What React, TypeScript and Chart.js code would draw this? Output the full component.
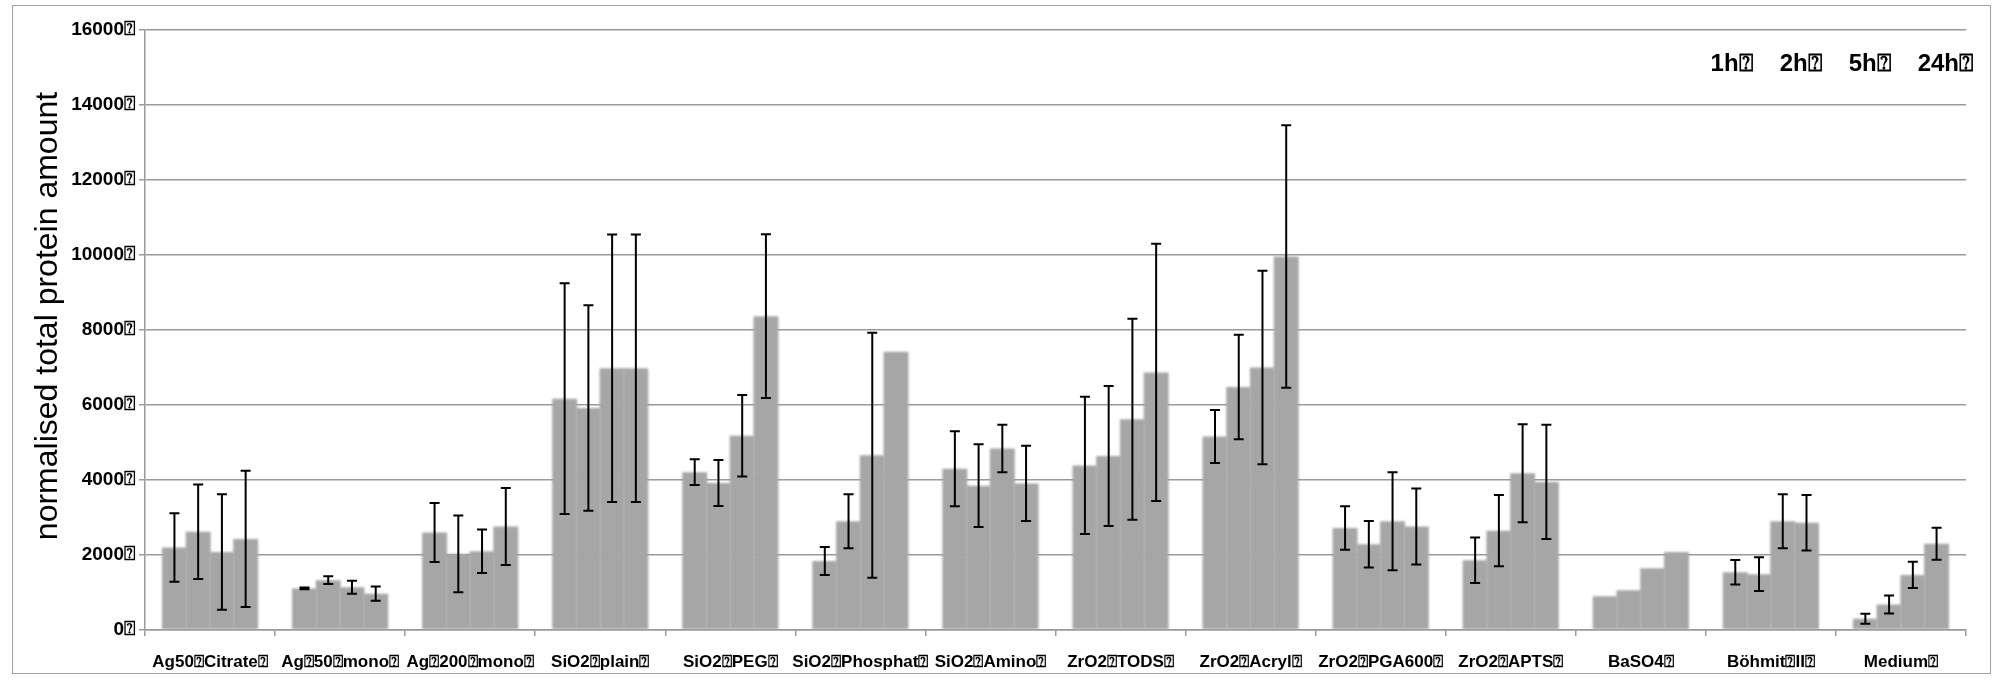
import React, { useEffect, useRef } from "react";
import { Chart, registerables } from "chart.js";

Chart.register(...registerables);

const BOX = "\u2370";

const categories = [
  "Ag50" + BOX + "Citrate" + BOX,
  "Ag" + BOX + "50" + BOX + "mono" + BOX,
  "Ag" + BOX + "200" + BOX + "mono" + BOX,
  "SiO2" + BOX + "plain" + BOX,
  "SiO2" + BOX + "PEG" + BOX,
  "SiO2" + BOX + "Phosphat" + BOX,
  "SiO2" + BOX + "Amino" + BOX,
  "ZrO2" + BOX + "TODS" + BOX,
  "ZrO2" + BOX + "Acryl" + BOX,
  "ZrO2" + BOX + "PGA600" + BOX,
  "ZrO2" + BOX + "APTS" + BOX,
  "BaSO4" + BOX,
  "Böhmit" + BOX + "II" + BOX,
  "Medium" + BOX,
];

const seriesNames = ["1h" + BOX, "2h" + BOX, "5h" + BOX, "24h" + BOX];

const values1h = [2200, 1110, 2600, 6170, 4210, 1840, 4300, 4390, 5160, 2720, 1860, 900, 1540, 300];
const values2h = [2620, 1330, 2030, 5920, 3920, 2900, 3850, 4640, 6480, 2290, 2650, 1060, 1490, 680];
const values5h = [2080, 1140, 2100, 6980, 5180, 4660, 4840, 5620, 7000, 2900, 4180, 1650, 2900, 1470];
const values24h = [2430, 970, 2760, 6980, 8370, 7420, 3910, 6870, 9960, 2760, 3950, 2080, 2860, 2300];

const err1h = [914, 25, 785, 3077, 344, 372, 997, 1828, 707, 583, 606, null, 329, 133];
const err2h = [1263, 106, 1024, 2742, 615, 717, 1102, 1865, 1392, 620, 951, null, 453, 240];
const err5h = [1543, 175, 583, 3564, 1089, 3266, 634, 2678, 2577, 1304, 1309, null, 720, 351];
const err24h = [1819, 193, 1024, 3564, 2186, null, 1001, 3431, 3500, 1015, 1525, null, 742, 427];

const yTickLabels = ["0", "2000", "4000", "6000", "8000", "10000", "12000", "14000", "16000"].map(
  (s) => s + BOX
);

const yTitle = "normalised total protein amount";

const BAR_COLOR = "#a6a6a6";
const GRID_COLOR = "#9a9a9a";
const SANS = '"Liberation Sans", Arial, sans-serif';

const blurPlugin = {
  id: "softBars",
  beforeDatasetDraw(chart: any) {
    chart.ctx.save();
    chart.ctx.filter = "blur(0.8px)";
  },
  afterDatasetDraw(chart: any) {
    chart.ctx.restore();
  },
};

const errorBarPlugin = {
  id: "errorBars",
  afterDatasetsDraw(chart: any) {
    const ctx = chart.ctx;
    const yScale = chart.scales.y;
    chart.data.datasets.forEach((ds: any, di: number) => {
      const meta = chart.getDatasetMeta(di);
      meta.data.forEach((bar: any, i: number) => {
        const e = ds.errors[i];
        if (e == null) return;
        const v = ds.data[i];
        const yTop = yScale.getPixelForValue(v + e);
        const yBot = yScale.getPixelForValue(v - e);
        const cap = 5;
        ctx.save();
        ctx.strokeStyle = "#000";
        ctx.lineWidth = 2;
        ctx.beginPath();
        ctx.moveTo(bar.x, yTop);
        ctx.lineTo(bar.x, yBot);
        ctx.moveTo(bar.x - cap, yTop);
        ctx.lineTo(bar.x + cap, yTop);
        ctx.moveTo(bar.x - cap, yBot);
        ctx.lineTo(bar.x + cap, yBot);
        ctx.stroke();
        ctx.restore();
      });
    });
  },
};

const textLegendPlugin = {
  id: "textLegend",
  afterDraw(chart: any) {
    const ctx = chart.ctx;
    const area = chart.chartArea;
    ctx.save();
    ctx.font = "bold 24px " + SANS;
    ctx.fillStyle = "#000";
    ctx.textBaseline = "middle";
    ctx.textAlign = "right";
    const gap = 27;
    let x = area.right + 7;
    const y = area.top + 34;
    const names = chart.data.datasets.map((d: any) => d.label);
    for (let i = names.length - 1; i >= 0; i--) {
      ctx.fillText(names[i], x, y);
      x -= ctx.measureText(names[i]).width + gap;
    }
    ctx.restore();
  },
};

const yTitlePlugin = {
  id: "yTitle",
  afterDraw(chart: any) {
    const ctx = chart.ctx;
    const area = chart.chartArea;
    ctx.save();
    ctx.translate(48, (area.top + area.bottom) / 2 - 14);
    ctx.rotate(-Math.PI / 2);
    ctx.font = '32px "Liberation Sans", sans-serif';
    ctx.fillStyle = "#000";
    ctx.textAlign = "center";
    ctx.textBaseline = "middle";
    ctx.fillText(yTitle, 0, 0);
    ctx.restore();
  },
};

export default function App() {
  const canvasRef = useRef<HTMLCanvasElement | null>(null);

  useEffect(() => {
    if (!canvasRef.current) return;
    const allValues = [values1h, values2h, values5h, values24h];
    const allErrors = [err1h, err2h, err5h, err24h];
    const chart = new Chart(canvasRef.current, {
      type: "bar",
      data: {
        labels: categories,
        datasets: seriesNames.map((name, i) => ({
          label: name,
          data: allValues[i],
          errors: allErrors[i],
          backgroundColor: BAR_COLOR,
          borderWidth: 0,
          categoryPercentage: 0.73,
          barPercentage: 1.05,
        })) as any,
      },
      options: {
        animation: false,
        responsive: true,
        maintainAspectRatio: false,
        layout: { padding: { left: 0, top: 30, right: 28, bottom: 0 } },
        plugins: {
          tooltip: { enabled: false },
          legend: { display: false },
        },
        scales: {
          x: {
            grid: {
              display: true,
              drawOnChartArea: false,
              drawTicks: true,
              tickLength: 6,
              offset: true,
              color: GRID_COLOR,
              lineWidth: 1.5,
            },
            border: { display: true, color: GRID_COLOR, width: 1.5 },
            ticks: {
              autoSkip: false,
              maxRotation: 0,
              minRotation: 0,
              padding: 16,
              color: "#000",
              font: { family: SANS, size: 17, weight: "bold" },
            },
            afterFit: (s: any) => {
              s.height = 51;
            },
          },
          y: {
            min: 0,
            max: 16000,
            ticks: {
              stepSize: 2000,
              color: "#000",
              padding: 4,
              font: { family: SANS, size: 19, weight: "bold" },
              callback: (_v: any, i: number) => yTickLabels[i],
            },
            grid: { color: GRID_COLOR, lineWidth: 1.5, tickLength: 6 },
            border: { color: GRID_COLOR, width: 1.5 },
            afterFit: (s: any) => {
              s.width = 145;
            },
          },
        },
      },
      plugins: [blurPlugin, errorBarPlugin, textLegendPlugin, yTitlePlugin],
    });
    return () => chart.destroy();
  }, []);

  return (
    <div
      style={{
        position: "fixed",
        left: 0,
        top: 0,
        width: 1994,
        height: 681,
        background: "#fff",
      }}
    >
      <canvas ref={canvasRef} />
      <div
        style={{
          position: "absolute",
          left: 12,
          top: 5,
          width: 1977,
          height: 667,
          border: "1.5px solid #a0a0a0",
          pointerEvents: "none",
        }}
      />
    </div>
  );
}
